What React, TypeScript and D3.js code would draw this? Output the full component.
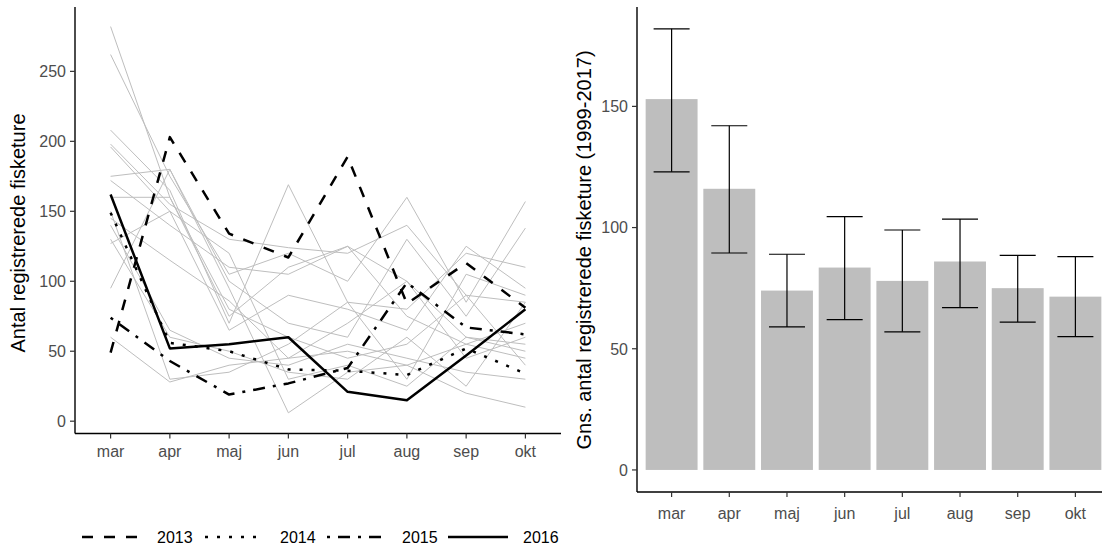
import * as d3 from 'd3';

const months = ['mar', 'apr', 'maj', 'jun', 'jul', 'aug', 'sep', 'okt'];

// highlighted years (left panel)
const y2013 = [49, 203, 134, 117, 189, 84, 113, 81];
const y2014 = [149, 56, 50, 37, 36, 33, 52, 34];
const y2015 = [74, 43, 19, 27, 38, 99, 67, 62];
const y2016 = [162, 52, 55, 60, 21, 15, 47, 80];

// remaining years, drawn in grey
const greyYears = [
  [282, 160, 75, 110, 125, 100, 60, 55],
  [262, 175, 105, 120, 100, 160, 85, 157],
  [208, 165, 70, 169, 85, 80, 120, 110],
  [198, 155, 130, 124, 120, 140, 90, 85],
  [196, 150, 65, 90, 80, 65, 125, 95],
  [175, 180, 100, 70, 60, 130, 75, 138],
  [172, 140, 110, 105, 125, 75, 55, 70],
  [160, 160, 80, 60, 45, 55, 90, 40],
  [145, 115, 86, 45, 70, 100, 45, 60],
  [140, 65, 45, 40, 55, 45, 35, 30],
  [127, 150, 120, 30, 40, 25, 60, 50],
  [95, 180, 95, 6, 35, 40, 20, 10],
  [60, 28, 40, 45, 50, 40, 55, 45],
  [130, 60, 50, 35, 30, 60, 25, 85],
  [150, 30, 35, 55, 85, 30, 105, 90],
];

// right panel: mean per month with error bars
const means = [153, 116, 74, 83.5, 78, 86, 75, 71.5];
const errLow = [123, 89.5, 59, 62, 57, 67, 61, 55];
const errHigh = [182, 142, 89, 104.5, 99, 103.5, 88.5, 88];

const leftTicks = [0, 50, 100, 150, 200, 250];
const rightTicks = [0, 50, 100, 150];

const legendYears = ['2013', '2014', '2015', '2016'];
const dashes = ['11 11', '3 9', '3 8 12 8', ''];
const highlighted = [y2013, y2014, y2015, y2016];

const font = '"Liberation Sans", Arial, sans-serif';
const tickColor = '#4d4d4d';
const tickSize = 16;
const titleSize = 20;

export default function App() {
  // left panel scales
  const lx = d3.scalePoint<string>().domain(months).range([110.6, 525.4]);
  const ly = d3.scaleLinear().domain([-8.8, 296]).range([433.5, 7]);
  const line = d3.line<number>()
    .x((_, i) => lx(months[i]) as number)
    .y(d => ly(d));

  // right panel scales
  const rx = d3.scaleBand<string>().domain(months).range([637, 1110]).paddingInner(0.1).paddingOuter(0.15);
  const ry = d3.scaleLinear().domain([-9.1, 191]).range([492, 7]);

  return (
    <svg width={1102} height={549} style={{ position: 'absolute', left: 0, top: 0, fontFamily: font }}>
      <rect width={1102} height={549} fill="white" />

      {/* left panel lines */}
      <g>
        {greyYears.map((s, i) => (
          <path key={'g' + i} d={line(s) as string} fill="none" stroke="#bebebe" strokeWidth={1} />
        ))}
        {highlighted.map((s, i) => (
          <path key={'h' + i} d={line(s) as string} fill="none" stroke="black" strokeWidth={2.5}
            strokeDasharray={dashes[i] || undefined} strokeLinejoin="round" />
        ))}
      </g>

      {/* left axes */}
      <line x1={75} x2={75} y1={7} y2={433.5} stroke="black" strokeWidth={1.4} />
      <line x1={75} x2={561} y1={433.5} y2={433.5} stroke="black" strokeWidth={1.4} />
      {leftTicks.map(t => (
        <g key={'ly' + t}>
          <line x1={70} x2={75} y1={ly(t)} y2={ly(t)} stroke="#333" strokeWidth={1.2} />
          <text x={66} y={ly(t)} dy="0.36em" textAnchor="end" fontSize={tickSize} fill={tickColor}>{t}</text>
        </g>
      ))}
      {months.map(m => (
        <g key={'lx' + m}>
          <line x1={lx(m)} x2={lx(m)} y1={433.5} y2={438.5} stroke="#333" strokeWidth={1.2} />
          <text x={lx(m)} y={451} dy="0.36em" textAnchor="middle" fontSize={tickSize} fill={tickColor}>{m}</text>
        </g>
      ))}
      <text transform="translate(25,233) rotate(-90)" textAnchor="middle" fontSize={titleSize} fill="black">
        Antal registrerede fisketure
      </text>

      {/* legend */}
      {legendYears.map((yr, i) => {
        const kx = [82, 205, 327, 448][i];
        return (
          <g key={'lg' + yr}>
            <line x1={kx} x2={kx + 60} y1={537} y2={537} stroke="black" strokeWidth={2.5}
              strokeDasharray={dashes[i] || undefined} />
            <text x={kx + 75} y={537} dy="0.36em" fontSize={tickSize} fill="black">{yr}</text>
          </g>
        );
      })}

      {/* right panel bars */}
      {months.map((m, i) => {
        const x0 = rx(m) as number;
        const w = rx.bandwidth();
        const cx = x0 + w / 2;
        return (
          <g key={'b' + m}>
            <rect x={x0} y={ry(means[i])} width={w} height={ry(0) - ry(means[i])} fill="#bebebe" />
            <line x1={cx} x2={cx} y1={ry(errLow[i])} y2={ry(errHigh[i])} stroke="black" strokeWidth={1.2} />
            <line x1={cx - 18} x2={cx + 18} y1={ry(errLow[i])} y2={ry(errLow[i])} stroke="black" strokeWidth={1.2} />
            <line x1={cx - 18} x2={cx + 18} y1={ry(errHigh[i])} y2={ry(errHigh[i])} stroke="black" strokeWidth={1.2} />
          </g>
        );
      })}

      {/* right axes */}
      <line x1={637} x2={637} y1={7} y2={492} stroke="black" strokeWidth={1.4} />
      <line x1={637} x2={1110} y1={492} y2={492} stroke="black" strokeWidth={1.4} />
      {rightTicks.map(t => (
        <g key={'ry' + t}>
          <line x1={632} x2={637} y1={ry(t)} y2={ry(t)} stroke="#333" strokeWidth={1.2} />
          <text x={628} y={ry(t)} dy="0.36em" textAnchor="end" fontSize={tickSize} fill={tickColor}>{t}</text>
        </g>
      ))}
      {months.map(m => {
        const cx = (rx(m) as number) + rx.bandwidth() / 2;
        return (
          <g key={'rx' + m}>
            <line x1={cx} x2={cx} y1={492} y2={497} stroke="#333" strokeWidth={1.2} />
            <text x={cx} y={513} dy="0.36em" textAnchor="middle" fontSize={tickSize} fill={tickColor}>{m}</text>
          </g>
        );
      })}
      <text transform="translate(591,250) rotate(-90)" textAnchor="middle" fontSize={titleSize} fill="black">
        Gns. antal registrerede fisketure (1999-2017)
      </text>
    </svg>
  );
}
